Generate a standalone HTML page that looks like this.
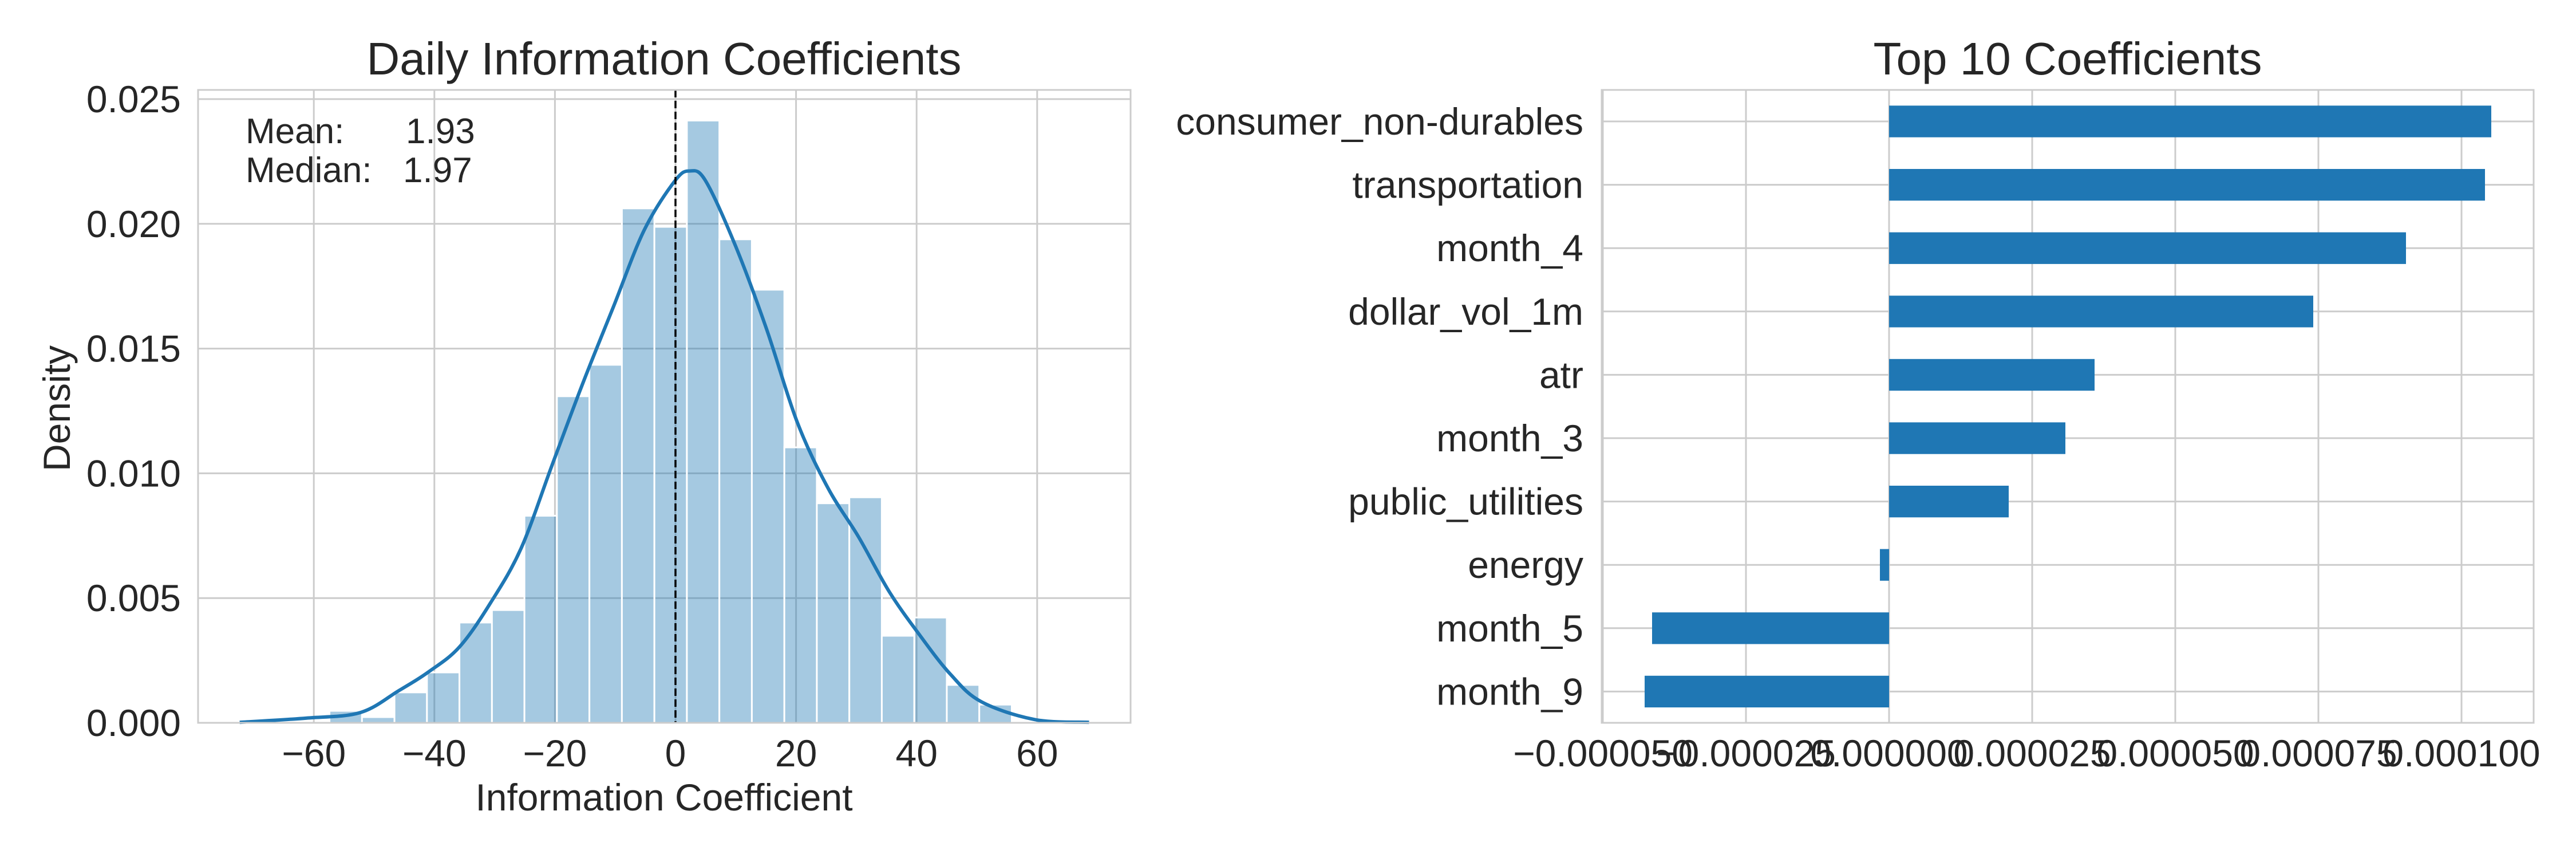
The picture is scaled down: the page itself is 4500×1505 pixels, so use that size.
<!DOCTYPE html>
<html><head><meta charset="utf-8"><style>
html,body{margin:0;padding:0;background:#fff;}
svg text{font-family:"Liberation Sans",Arial,sans-serif;fill:#262626;}
</style></head><body>
<svg id="fig" width="4500" height="1500" viewBox="0 0 4500 1500" xmlns="http://www.w3.org/2000/svg">
<rect width="4500" height="1500" fill="#fff"/>
<g id="left"></g>
<g id="right"></g>
</svg>
<script>
// ---- Histogram data ----
const histEdgeStart = -57.4;
const histBinWidth = 5.39;
const histDensities = [0.00048,0.00023,0.00122,0.00202,0.00402,0.00452,0.00830,0.01309,0.01435,0.02062,0.01988,0.02414,0.01938,0.01736,0.01104,0.00880,0.00904,0.00349,0.00422,0.00152,0.00073];
const kdeX = [-72.3,-61.2,-52.3,-45.9,-40.8,-35.8,-30.7,-25.6,-20.5,-15.4,-10.3,-5.2,-0.1,2.4,5.0,10.0,15.1,20.2,25.3,30.4,35.5,40.6,45.6,50.7,59.6,68.6];
const kdeY = [0.00002,0.00019,0.00041,0.00129,0.00207,0.00305,0.00480,0.00700,0.01031,0.01359,0.01667,0.01974,0.02172,0.02212,0.02172,0.01909,0.01579,0.01205,0.00941,0.00744,0.00524,0.00349,0.00195,0.00085,0.00013,0.00002];
const histXTicks = [-60,-40,-20,0,20,40,60];
const histXTickLabels = ["\u221260","\u221240","\u221220","0","20","40","60"];
const histYTicks = [0,0.005,0.010,0.015,0.020,0.025];
const histYTickLabels = ["0.000","0.005","0.010","0.015","0.020","0.025"];
const meanValue = 0;
// ---- Coefficients data ----
const coefNames = ["consumer_non-durables","transportation","month_4","dollar_vol_1m","atr","month_3","public_utilities","energy","month_5","month_9"];
const coefValues = [0.0001052,0.0001041,0.0000903,0.0000741,0.0000359,0.0000308,0.0000209,-0.0000016,-0.0000414,-0.0000427];
const coefXTicks = [-0.00005,-0.000025,0,0.000025,0.00005,0.000075,0.0001];
const coefXTickLabels = ["\u22120.000050","\u22120.000025","0.000000","0.000025","0.000050","0.000075","0.000100"];

const NS="http://www.w3.org/2000/svg";
const TF=66;
function mk(tag,attrs,parent){const e=document.createElementNS(NS,tag);for(const k in attrs)e.setAttribute(k,attrs[k]);parent.appendChild(e);return e;}

// Left axes
const L={x0:346,x1:1975,y0:157,y1:1262};
const lx=v=>1180+v*10.53;
const ly=v=>1262-v/0.005*217.8;
const left=document.getElementById('left');
histXTicks.forEach((t,i)=>{
  const g=mk('line',{x1:lx(t),x2:lx(t),y1:L.y0,y2:L.y1,stroke:'#cccccc','stroke-width':3},left);
  
  
  const tx=mk('text',{x:lx(t),y:1338,'font-size':TF,'text-anchor':'middle'},left);
  tx.textContent=histXTickLabels[i];
  
  
});
histYTicks.forEach((t,i)=>{
  const g=mk('line',{x1:L.x0,x2:L.x1,y1:ly(t),y2:ly(t),stroke:'#cccccc','stroke-width':3},left);
  
  
  const tx=mk('text',{x:316,y:ly(t)+23,'font-size':TF,'text-anchor':'end'},left);
  tx.textContent=histYTickLabels[i];
  
  
});
histDensities.forEach((d,i)=>{
  const a=histEdgeStart+i*histBinWidth;
  const r=mk('rect',{x:lx(a),y:ly(d),width:lx(a+histBinWidth)-lx(a),height:ly(0)-ly(d),fill:'rgba(31,119,180,0.4)',stroke:'#ffffff','stroke-width':3},left);
  
  
});
// Catmull-Rom smooth path
const P=kdeX.map((x,i)=>[lx(x),ly(kdeY[i])]);
let dpath='M'+P[0][0].toFixed(1)+' '+P[0][1].toFixed(1);
for(let i=0;i<P.length-1;i++){
  const p0=P[Math.max(0,i-1)],p1=P[i],p2=P[i+1],p3=P[Math.min(P.length-1,i+2)];
  const c1=[p1[0]+(p2[0]-p0[0])/6,p1[1]+(p2[1]-p0[1])/6];
  const c2=[p2[0]-(p3[0]-p1[0])/6,p2[1]-(p3[1]-p1[1])/6];
  dpath+='C'+c1[0].toFixed(1)+' '+c1[1].toFixed(1)+' '+c2[0].toFixed(1)+' '+c2[1].toFixed(1)+' '+p2[0].toFixed(1)+' '+p2[1].toFixed(1);
}
const kde=mk('path',{d:dpath,fill:'none',stroke:'#1f77b4','stroke-width':6,'stroke-linejoin':'round'},left);


const ml=mk('line',{x1:lx(meanValue),x2:lx(meanValue),y1:L.y0,y2:L.y1,stroke:'#000','stroke-width':3.5,'stroke-dasharray':'13 6'},left);


mk('rect',{x:L.x0,y:L.y0,width:L.x1-L.x0,height:L.y1-L.y0,fill:'none',stroke:'#cccccc','stroke-width':3},left);
</script>
<script>
(function(){
const left=document.getElementById('left');
const t=[["Daily Information Coefficients",1160,130,80,'middle','hist-title'],
["Information Coefficient",1160,1415,TF,'middle','x-axis-title'],
["Mean:",429,250,62,'start','mean-label'],["1.93",709,250,62,'start','mean-value'],
["Median:",429,318,62,'start','median-label'],["1.97",704,318,62,'start','median-value']];
t.forEach(a=>{const e=mk('text',{x:a[1],y:a[2],'font-size':a[3],'text-anchor':a[4]},left);e.textContent=a[0];

});
const yl=mk('text',{x:0,y:0,'font-size':TF,'text-anchor':'middle',transform:'translate(122,713) rotate(-90)'},left);
yl.textContent='Density';



// Right axes
const right=document.getElementById('right');
const R={x0:2798,x1:4426,y0:157,y1:1262};
const rx=v=>3300+v/0.000025*250;
const rowY=i=>212+i*110.6;
coefXTicks.forEach((t,i)=>{
  const g=mk('line',{x1:rx(t),x2:rx(t),y1:R.y0,y2:R.y1,stroke:'#cccccc','stroke-width':3},right);
  
  
  const tx=mk('text',{x:rx(t),y:1338,'font-size':TF,'text-anchor':'middle'},right);
  tx.textContent=coefXTickLabels[i];
  
  
});
coefNames.forEach((n,i)=>{
  const g=mk('line',{x1:R.x0,x2:R.x1,y1:rowY(i),y2:rowY(i),stroke:'#cccccc','stroke-width':3},right);
  
  
  const tx=mk('text',{x:2766,y:rowY(i)+23,'font-size':TF,'text-anchor':'end'},right);
  tx.textContent=n;
  
  
});
coefValues.forEach((v,i)=>{
  const a=Math.min(rx(0),rx(v)),b=Math.max(rx(0),rx(v));
  const r=mk('rect',{x:a,y:rowY(i)-27.6,width:b-a,height:55.3,fill:'#1f77b4'},right);
  
  
});
mk('rect',{x:R.x0,y:R.y0,width:R.x1-R.x0,height:R.y1-R.y0,fill:'none',stroke:'#cccccc','stroke-width':3},right);
const tt=mk('text',{x:3612,y:130,'font-size':80,'text-anchor':'middle'},right);
tt.textContent='Top 10 Coefficients';


})();
</script>
</body></html>
